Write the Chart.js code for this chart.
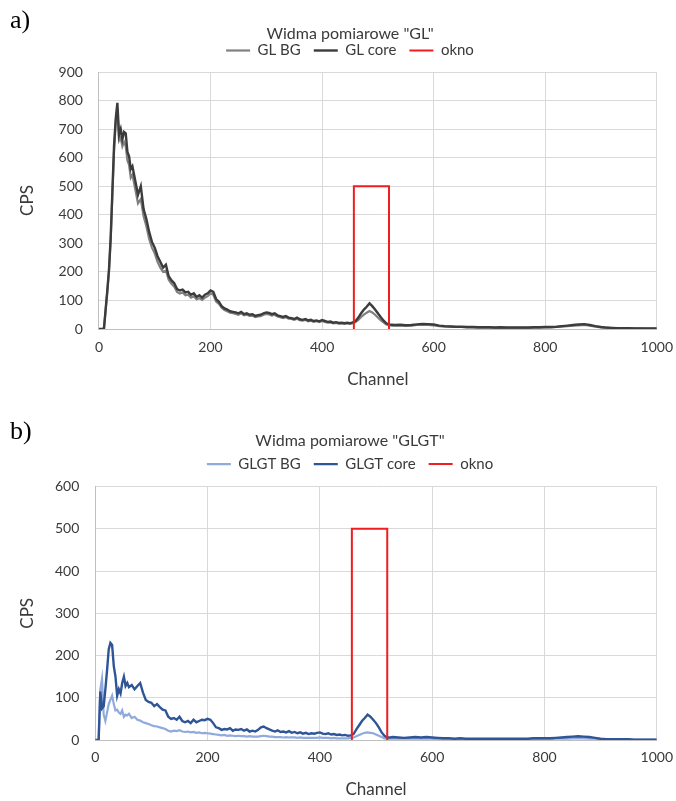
<!DOCTYPE html>
<html>
<head>
<meta charset="utf-8">
<script src="https://cdn.jsdelivr.net/npm/chart.js@4"></script>
<style>
  html, body { margin: 0; padding: 0; background: #fff; }
  body { width: 676px; height: 801px; position: relative; overflow: hidden; }
  canvas { position: absolute; left: 0; }
  #cA { top: 0; }
  #cB { top: 400px; }
  .lbl { position: absolute; left: 10px; font-family: "Liberation Serif", serif; font-size: 26px; line-height: 26px; color: #000; }
</style>
</head>
<body>
<canvas id="cA" width="676" height="400"></canvas>
<canvas id="cB" width="676" height="401"></canvas>
<div class="lbl" style="top:7px;">a)</div>
<div class="lbl" style="top:418px;">b)</div>
<script>
// ---- data ----
const channels = [
  0,3,6,9,12,15,18,21,24,27,30,33,36,39,42,45,48,51,54,57,60,
  65,70,75,80,85,90,95,100,105,110,
  115,120,125,130,135,140,145,150,155,160,
  165,170,175,180,185,190,195,200,205,210,
  215,220,225,230,235,240,245,250,255,260,
  265,270,275,280,285,290,295,300,305,310,
  315,320,325,330,335,340,345,350,355,360,
  365,370,375,380,385,390,395,400,405,410,
  415,420,425,430,435,440,445,450,455,460,
  465,470,475,480,485,490,495,500,505,510,
  515,520,525,530,
  540,550,560,570,580,590,600,610,620,630,
  640,650,660,670,680,690,700,710,720,730,
  740,750,760,770,780,790,800,810,820,830,
  840,850,860,870,880,890,900,910,920,930,
  940,950,960,970,980,990,1000
];

const glCore = [
  0,0,0,2,70,135,210,320,480,640,735,792,680,700,665,690,685,620,605,560,570,
  520,470,500,420,385,340,305,285,255,235,
  215,225,185,170,160,140,135,138,128,130,
  120,125,112,118,110,120,125,135,130,105,
  95,80,72,68,62,60,58,55,60,52,
  55,50,52,46,48,50,55,58,56,52,
  55,48,45,42,45,40,38,35,40,34,
  32,35,30,32,28,30,27,31,28,25,
  26,22,24,21,22,20,22,20,23,28,
  40,55,68,78,90,80,68,55,42,30,
  20,16,15,14,
  15,13,14,16,18,17,16,12,10,9,
  8,8,7,7,6,6,6,5,6,5,
  5,5,5,5,6,6,7,7,8,10,
  12,14,16,17,14,10,7,5,4,3,
  3,3,2,2,2,2,2
];

const glBG = [
  0,0,0,2,65,130,200,310,465,620,720,770,660,670,640,655,640,590,575,530,540,
  490,440,455,395,360,315,285,265,235,215,
  200,205,172,158,148,130,124,128,118,120,
  110,115,104,108,102,110,115,125,120,96,
  88,74,66,62,57,55,53,50,55,48,
  50,46,47,42,44,45,50,53,51,47,
  50,44,41,38,41,36,35,32,36,31,
  29,32,27,29,25,27,24,28,25,22,
  23,20,21,19,20,18,20,18,20,24,
  32,42,50,57,63,58,50,40,31,23,
  16,13,12,12,
  13,11,12,14,15,14,13,10,8,8,
  7,7,6,6,5,5,5,4,5,4,
  4,4,4,4,5,5,6,6,7,8,
  10,12,13,14,12,8,6,4,3,3,
  2,2,2,2,1,1,1
];

const glgtCore = [
  0,0,0,115,75,80,120,165,215,230,225,175,150,105,120,110,135,150,128,135,125,
  130,120,128,135,112,95,90,88,80,85,
  78,72,70,55,50,52,48,55,45,42,
  45,40,48,42,45,48,47,50,48,40,
  30,28,24,26,25,28,22,25,24,26,
  22,25,20,22,20,24,30,32,28,25,
  22,20,23,19,20,18,21,17,19,16,
  18,15,17,14,16,15,17,18,15,14,
  16,13,14,12,13,11,12,10,11,14,
  25,35,45,52,60,55,48,40,30,18,
  10,6,6,7,
  6,5,6,7,6,7,6,5,4,4,
  3,4,3,3,3,3,3,3,3,3,
  3,3,3,3,4,4,4,4,5,6,
  7,8,9,8,7,5,3,2,2,2,
  2,2,1,1,1,1,1
];

const glgtBG = [
  0,0,0,120,145,60,45,65,85,95,105,85,70,72,65,62,70,55,60,58,62,
  52,55,48,46,42,40,38,35,33,32,
  30,28,26,22,20,22,21,23,20,19,
  20,18,19,17,18,16,17,16,15,14,
  13,12,11,12,10,11,10,9,10,9,
  9,8,9,8,8,8,9,10,9,8,
  8,7,7,7,6,7,6,6,6,5,
  6,5,5,5,5,5,5,6,5,5,
  5,4,5,4,4,4,4,4,5,6,
  9,12,15,17,18,17,16,13,10,7,
  4,3,3,3,
  3,3,3,3,3,3,3,2,2,2,
  2,2,2,2,2,2,2,2,2,2,
  2,2,2,2,2,2,2,2,3,3,
  3,4,4,4,3,3,2,2,1,1,
  1,1,1,1,1,1,1
];

// window ("okno") outline
const oknoX = [457, 457, 520, 520];
const oknoY = [0, 500, 500, 0];

// axis ranges / tick steps
const xMin = 0, xMax = 1000, xStep = 200;
const yMaxA = 900, yMaxB = 600, yStep = 100;

// ---- chart construction ----
const FONT = "Lato, 'Open Sans', sans-serif";
const TXT = '#3a3a3a';

function pts(xs, ys) { return xs.map((x, i) => ({ x: x, y: ys[i] })); }

function makeChart(id, cfg) {
  return new Chart(document.getElementById(id), {
    type: 'line',
    data: {
      datasets: [
        { label: cfg.names[0], data: pts(channels, cfg.bg), borderColor: cfg.colors[0], backgroundColor: cfg.colors[0], borderWidth: 2.2, order: 3 },
        { label: cfg.names[1], data: pts(channels, cfg.core), borderColor: cfg.colors[1], backgroundColor: cfg.colors[1], borderWidth: 2.4, order: 2 },
        { label: 'okno', data: pts(oknoX, oknoY), borderColor: '#f01e1e', backgroundColor: '#f01e1e', borderWidth: 2, order: 1 }
      ]
    },
    options: {
      responsive: false,
      animation: false,
      devicePixelRatio: 1,
      elements: { point: { radius: 0, hoverRadius: 0 }, line: { tension: 0 } },
      layout: { padding: { left: 43, right: 19, top: 0, bottom: cfg.padBottom } },
      plugins: {
        tooltip: { enabled: false },
        title: {
          display: true, text: cfg.title, color: TXT,
          font: { family: FONT, size: 16, weight: 'normal' },
          padding: { top: cfg.titleTop, bottom: cfg.titleBottom }
        },
        legend: {
          display: true, position: 'top',
          labels: {
            usePointStyle: true, pointStyle: 'line', pointStyleWidth: 24,
            color: TXT, font: { family: FONT, size: 15 }, padding: 13,
            sort: (a, b) => a.datasetIndex - b.datasetIndex
          }
        },
        subtitle: {
          display: true, text: '', weight: 500,
          font: { size: 1, lineHeight: 1 },
          padding: { top: 0, bottom: cfg.spacer }
        }
      },
      scales: {
        x: {
          type: 'linear', min: xMin, max: xMax,
          ticks: { stepSize: xStep, color: TXT, font: { family: FONT, size: 14, lineHeight: cfg.xTickLH + 'px' }, padding: 3, maxRotation: 0,
                   callback: v => String(v) },
          grid: { color: '#d9d9d9', drawTicks: false },
          border: { color: '#bfbfbf' },
          title: { display: true, text: 'Channel', color: TXT, font: { family: FONT, size: 17 }, padding: { top: cfg.xTitlePadT, bottom: 0 } }
        },
        y: {
          min: 0, max: cfg.yMax,
          ticks: { stepSize: yStep, color: TXT, font: { family: FONT, size: 14 }, padding: 16, callback: v => String(v) },
          grid: { color: '#d9d9d9', drawTicks: false },
          border: { color: '#bfbfbf' },
          title: { display: true, text: 'CPS', color: TXT, font: { family: FONT, size: 17 }, padding: { top: -25.2, bottom: cfg.yTitlePadB } }
        }
      }
    }
  });
}

makeChart('cA', {
  title: 'Widma pomiarowe "GL"',
  names: ['GL BG', 'GL core'],
  colors: ['#808080', '#3c3c3c'],
  bg: glBG, core: glCore, yMax: yMaxA,
  titleTop: 24, titleBottom: -13.2, spacer: 3,
  padBottom: 9.8, xTickLH: 30, xTitlePadT: 4.8, yTitlePadB: 4.4
});

makeChart('cB', {
  title: 'Widma pomiarowe "GLGT"',
  names: ['GLGT BG', 'GLGT core'],
  colors: ['#8faadc', '#2f5597'],
  bg: glgtBG, core: glgtCore, yMax: yMaxB,
  titleTop: 31.5, titleBottom: -7.1, spacer: 4,
  padBottom: 0.8, xTickLH: 28, xTitlePadT: 5.8, yTitlePadB: 0.7
});
</script>
</body>
</html>
